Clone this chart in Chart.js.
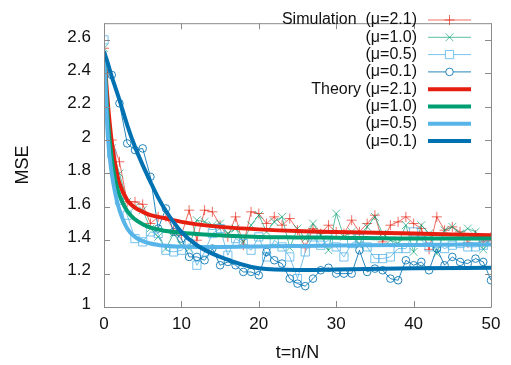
<!DOCTYPE html>
<html>
<head>
<meta charset="utf-8">
<script src="https://cdn.jsdelivr.net/npm/chart.js@4/dist/chart.umd.min.js"></script>
<style>
  html, body { margin: 0; padding: 0; background: #fff; }
  #chart { display: block; }
</style>
</head>
<body>
<canvas id="chart" width="511" height="365"></canvas>
<script>
// axis ticks
const xTicks = [0, 10, 20, 30, 40, 50];
const yTicks = [1, 1.2, 1.4, 1.6, 1.8, 2, 2.2, 2.4, 2.6];

// simulation samples, t = 0..50
const tSim = [0,1,2,3,4,5,6,7,8,9,10,11,12,13,14,15,16,17,18,19,20,21,22,23,24,25,
              26,27,28,29,30,31,32,33,34,35,36,37,38,39,40,41,42,43,44,45,46,47,48,49,50];
const sim21 = [2.55,2.00,1.87,1.63,1.63,1.615,1.50,1.54,1.54,1.46,1.43,1.58,1.40,1.58,1.57,1.49,1.42,1.54,1.37,1.57,
               1.56,1.50,1.54,1.49,1.53,1.46,1.355,1.47,1.44,1.49,1.45,1.44,1.52,1.45,1.50,1.55,1.39,1.49,1.51,1.54,
               1.50,1.47,1.345,1.54,1.46,1.48,1.45,1.385,1.43,1.39,1.42];
const sim10 = [2.55,1.95,1.80,1.63,1.60,1.58,1.47,1.42,1.35,1.44,1.37,1.35,1.52,1.51,1.49,1.50,1.44,1.47,1.39,1.49,
               1.55,1.45,1.51,1.54,1.355,1.47,1.41,1.50,1.43,1.34,1.56,1.42,1.45,1.375,1.48,1.54,1.44,1.40,1.38,1.49,
               1.33,1.49,1.44,1.32,1.46,1.48,1.44,1.47,1.45,1.345,1.41];
const sim05 = [2.60,1.92,1.64,1.55,1.41,1.39,1.45,1.44,1.34,1.33,1.34,1.38,1.25,1.33,1.44,1.47,1.31,1.41,1.38,1.34,
               1.42,1.30,1.40,1.36,1.30,1.17,1.33,1.42,1.37,1.40,1.36,1.30,1.38,1.41,1.36,1.29,1.29,1.30,1.35,1.35,
               1.45,1.40,1.36,1.38,1.35,1.37,1.38,1.36,1.36,1.37,1.40];
const sim01 = [2.41,2.39,2.22,1.98,1.94,1.95,1.78,1.47,1.59,1.45,1.41,1.30,1.30,1.28,1.35,1.25,1.27,1.25,1.21,1.21,
               1.19,1.33,1.28,1.26,1.17,1.14,1.125,1.17,1.22,1.235,1.20,1.20,1.20,1.34,1.21,1.23,1.22,1.17,1.16,1.28,
               1.25,1.27,1.22,1.35,1.25,1.30,1.27,1.26,1.29,1.27,1.16];

// theory curves, read at these t
const tTheory = [0, 0.5, 1, 1.5, 2, 3, 4, 5, 6, 7, 8, 10, 12, 15, 20, 25, 30, 40, 50];
const theory21 = [2.53,2.22,1.99,1.84,1.74,1.64,1.595,1.57,1.55,1.54,1.53,1.51,1.495,1.48,1.465,1.455,1.45,1.44,1.43];
const theory10 = [2.53,2.12,1.89,1.75,1.67,1.575,1.525,1.495,1.475,1.465,1.455,1.445,1.437,1.43,1.42,1.417,1.415,1.41,1.41];
const theory05 = [2.53,2.02,1.80,1.67,1.58,1.47,1.42,1.395,1.38,1.372,1.367,1.362,1.36,1.36,1.363,1.366,1.368,1.372,1.375];
const theory01 = [2.53,2.46,2.38,2.31,2.24,2.09,1.96,1.85,1.75,1.655,1.575,1.45,1.37,1.30,1.232,1.222,1.225,1.232,1.235];

const legendLabels = ['Simulation  (μ=2.1)', '(μ=1.0)', '(μ=0.5)', '(μ=0.1)',
                      'Theory (μ=2.1)', '(μ=1.0)', '(μ=0.5)', '(μ=0.1)'];

const pts = (xs, ys) => xs.map((x, i) => ({ x: x, y: ys[i] }));

function simSet(ys, color, style, r) {
    return {
        data: pts(tSim, ys), borderColor: color, backgroundColor: 'rgba(0,0,0,0)',
        borderWidth: 1, pointStyle: style, pointRadius: r, pointBorderWidth: 1,
        pointBorderColor: color, pointBackgroundColor: 'rgba(0,0,0,0)', tension: 0
    };
}
function theorySet(ys, color) {
    return {
        data: pts(tTheory, ys), borderColor: color, borderWidth: 4, pointRadius: 0,
        cubicInterpolationMode: 'monotone', fill: false
    };
}

const datasets = [
    simSet(sim21, 'rgba(229,30,16,0.65)', 'cross', 5),
    simSet(sim10, 'rgba(0,158,115,0.65)', 'crossRot', 5.5),
    simSet(sim05, 'rgba(86,180,233,0.8)', 'rect', 5.8),
    simSet(sim01, 'rgba(0,114,178,0.85)', 'circle', 3.8),
    theorySet(theory21, '#e51e10'),
    theorySet(theory10, '#009e73'),
    theorySet(theory05, '#56b4e9'),
    theorySet(theory01, '#0072b2')
];
// later datasets on top, like gnuplot
datasets.forEach((d, i) => { d.order = datasets.length - i; });

const framePlugin = {
    id: 'frame',
    afterDatasetsDraw(chart) {
        const { ctx, chartArea: a, scales } = chart;
        ctx.save();
        ctx.strokeStyle = '#8a8a8a';
        ctx.lineWidth = 1;
        ctx.beginPath();
        ctx.rect(a.left + 0.5, a.top + 0.5, a.right - a.left, a.bottom - a.top);
        yTicks.forEach(v => {
            const py = Math.round(scales.y.getPixelForValue(v)) + 0.5;
            ctx.moveTo(a.left, py); ctx.lineTo(a.left + 6, py);
            ctx.moveTo(a.right, py); ctx.lineTo(a.right - 6, py);
        });
        xTicks.forEach(v => {
            const px = Math.round(scales.x.getPixelForValue(v)) + 0.5;
            ctx.moveTo(px, a.bottom); ctx.lineTo(px, a.bottom - 6);
            ctx.moveTo(px, a.top); ctx.lineTo(px, a.top + 6);
        });
        ctx.stroke();
        ctx.restore();
    }
};

const legendPlugin = {
    id: 'keyBox',
    afterDraw(chart) {
        const ctx = chart.ctx;
        ctx.save();
        ctx.font = '16px "Liberation Sans", Arial, sans-serif';
        ctx.textAlign = 'right';
        ctx.textBaseline = 'middle';
        legendLabels.forEach((label, i) => {
            const ds = chart.data.datasets[i];
            const y = 20 + i * 17.3;
            ctx.fillStyle = '#111';
            ctx.fillText(label, 417, y);
            ctx.strokeStyle = ds.borderColor;
            ctx.lineWidth = ds.borderWidth;
            ctx.beginPath();
            ctx.moveTo(428, y); ctx.lineTo(471, y);
            ctx.stroke();
            if (ds.pointRadius > 0) {
                ctx.lineWidth = 1;
                ctx.fillStyle = '#fff';
                Chart.helpers.drawPoint(ctx, { pointStyle: ds.pointStyle, radius: ds.pointRadius, rotation: 0, borderWidth: 1 }, 449.5, y);
            }
        });
        ctx.restore();
    }
};

const tickFont = { size: 17, family: '"Liberation Sans", Arial' };
const titleFont = { size: 18, family: '"Liberation Sans", Arial' };

new Chart(document.getElementById('chart'), {
    type: 'line',
    data: { datasets: datasets },
    options: {
        responsive: false,
        animation: false,
        devicePixelRatio: 1,
        layout: { padding: { top: 11, right: 20, left: 0, bottom: 0 } },
        plugins: { legend: { display: false }, tooltip: { enabled: false } },
        scales: {
            x: {
                type: 'linear', min: 0, max: 50,
                afterBuildTicks: s => { s.ticks = xTicks.map(v => ({ value: v })); },
                afterFit: s => { s.height = 58; },
                grid: { display: false, drawTicks: false }, border: { display: false },
                ticks: { font: tickFont, color: '#111', padding: 7, maxRotation: 0 },
                title: { display: true, text: 't=n/N', color: '#111', font: titleFont, padding: { top: 0, bottom: 1 } }
            },
            y: {
                type: 'linear', min: 1, max: 2.7,
                afterBuildTicks: s => { s.ticks = yTicks.map(v => ({ value: v })); },
                afterFit: s => { s.width = 104; },
                grid: { display: false, drawTicks: false }, border: { display: false },
                ticks: { font: tickFont, color: '#111', padding: 13, labelOffset: -3, callback: v => v.toString() },
                title: { display: true, text: 'MSE', color: '#111', font: titleFont, padding: { top: 12, bottom: 0 } }
            }
        }
    },
    plugins: [framePlugin, legendPlugin]
});
</script>
</body>
</html>
